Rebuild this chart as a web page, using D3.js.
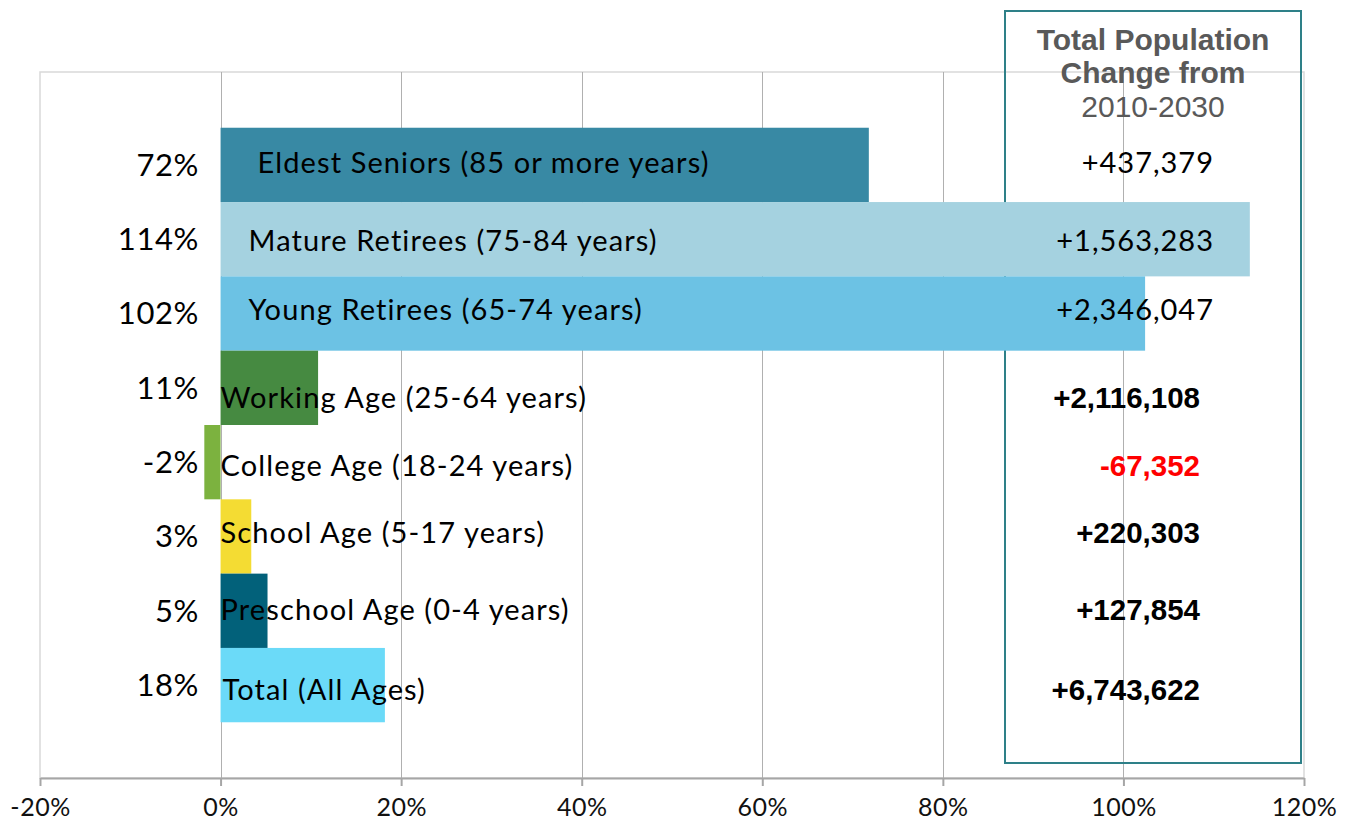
<!DOCTYPE html>
<html>
<head>
<meta charset="utf-8">
<script src="https://cdnjs.cloudflare.com/ajax/libs/d3/7.8.5/d3.min.js"></script>
<style>
  body { margin: 0; background: #fff; }
  svg { display: block; }
</style>
</head>
<body>
<div id="chart"></div>
<script>
// data
var categories = ["Eldest Seniors (85 or more years)", "Mature Retirees (75-84 years)", "Young Retirees (65-74 years)",
    "Working Age (25-64 years)", "College Age (18-24 years)", "School Age (5-17 years)",
    "Preschool Age (0-4 years)", "Total (All Ages)"];
var pctChange = [0.718, 1.14, 1.024, 0.108, -0.018, 0.034, 0.052, 0.182];
var popChange = [437379, 1563283, 2346047, 2116108, -67352, 220303, 127854, 6743622];
var xTicks = [-0.2, 0, 0.2, 0.4, 0.6, 0.8, 1.0, 1.2];
var boxTitle = ["Total Population", "Change from", "2010-2030"];

var barColors = ["#3889a4", "#a5d2e0", "#6cc2e4", "#468a41", "#7cb23f", "#f4dc33", "#02617a", "#6bdaf8"];

var canvas_width = 1355,
    canvas_height = 823;

// label nudges (layout only)
var labelDx = [37, 28, 28, 0, 0, 0, 0, 2];
var labelDy = [-2, 2, -4, 10, 4, -4, -1, 5];

var svg = d3.select("#chart")
    .append("svg")
    .attr("width", canvas_width)
    .attr("height", canvas_height);

var x = d3.scaleLinear()
    .domain([-0.2, 1.2])
    .range([40, 1304]);

var y = d3.scaleBand()
    .domain(categories)
    .range([72, 778])
    .paddingInner(0)
    .paddingOuter(0.75);

var pctFmt = function(v) { return Math.round(v * 100) + "%"; };
var numFmt = function(v) { return (v < 0 ? "-" : "+") + d3.format(",")(Math.abs(v)); };

// plot frame
svg.append("rect")
    .attr("x", 40)
    .attr("y", 72)
    .attr("width", 1264)
    .attr("height", 706)
    .attr("fill", "none")
    .attr("stroke", "#d9d9d9")
    .attr("stroke-width", 1.5);

// gridlines
svg.selectAll("line.grid")
    .data(xTicks.slice(1, -1))
    .enter()
        .append("line")
        .attr("class", "grid")
        .attr("x1", function(d) { return Math.round(x(d)) + 0.5; })
        .attr("x2", function(d) { return Math.round(x(d)) + 0.5; })
        .attr("y1", 72)
        .attr("y2", 778)
        .attr("stroke", "#b0b0b0")
        .attr("stroke-width", 1);

// box around the right column (sits behind the bars)
svg.append("rect")
    .attr("x", 1005)
    .attr("y", 11)
    .attr("width", 296)
    .attr("height", 752)
    .attr("fill", "none")
    .attr("stroke", "#2e8088")
    .attr("stroke-width", 2);

// bars
svg.selectAll("rect.bar")
    .data(categories)
    .enter()
        .append("rect")
        .attr("class", "bar")
        .attr("x", function(d, i) { return x(Math.min(0, pctChange[i])); })
        .attr("y", function(d) { return y(d); })
        .attr("width", function(d, i) { return Math.abs(x(pctChange[i]) - x(0)); })
        .attr("height", y.bandwidth())
        .attr("fill", function(d, i) { return barColors[i]; });

// x axis
var xAxis = d3.axisBottom(x)
    .tickValues(xTicks)
    .tickFormat(pctFmt)
    .tickSizeInner(8)
    .tickSizeOuter(0)
    .tickPadding(12);

var gx = svg.append("g")
    .attr("transform", "translate(0,778)")
    .call(xAxis);
gx.select(".domain").attr("stroke", "#a6a6a6").attr("stroke-width", 2);
gx.selectAll(".tick line").attr("stroke", "#a6a6a6").attr("stroke-width", 2);
gx.selectAll(".tick text")
    .attr("fill", "#111")
    .style("font-family", "Lato, 'Noto Sans', sans-serif")
    .style("font-size", "25px")
    .style("letter-spacing", "0.5px");

// percent labels left of zero
svg.selectAll("text.pct")
    .data(categories)
    .enter()
        .append("text")
        .attr("class", "pct")
        .attr("x", 199)
        .attr("y", function(d) { return y(d) + y.bandwidth() / 2; })
        .attr("dy", "0.35em")
        .attr("text-anchor", "end")
        .style("font-family", "Lato, 'Noto Sans', sans-serif")
        .style("font-size", "31px")
        .style("letter-spacing", "0.6px")
        .attr("fill", "#000")
        .text(function(d, i) { return pctFmt(pctChange[i]); });

// category names on the bars
svg.selectAll("text.cat")
    .data(categories)
    .enter()
        .append("text")
        .attr("class", "cat")
        .attr("x", function(d, i) { return x(0) + labelDx[i]; })
        .attr("y", function(d, i) { return y(d) + y.bandwidth() / 2 + labelDy[i]; })
        .attr("dy", "0.35em")
        .style("font-family", "Lato, 'Noto Sans', sans-serif")
        .style("font-size", "29px")
        .style("letter-spacing", "1.1px")
        .attr("fill", "#000")
        .text(function(d) { return d; });

// population change column
svg.selectAll("text.pop")
    .data(categories)
    .enter()
        .append("text")
        .attr("class", "pop")
        .attr("x", function(d, i) { return i < 3 ? 1214 : 1200; })
        .attr("y", function(d, i) { return y(d) + y.bandwidth() / 2 + labelDy[i]; })
        .attr("dy", "0.35em")
        .attr("text-anchor", "end")
        .style("font-family", function(d, i) {
            return i < 3 ? "Lato, 'Noto Sans', sans-serif" : "'Liberation Sans', Arial, sans-serif";
        })
        .style("font-weight", function(d, i) { return i < 3 ? "normal" : "bold"; })
        .style("font-size", function(d, i) { return i < 3 ? "29px" : "29.5px"; })
        .style("letter-spacing", function(d, i) { return i < 3 ? "1px" : "0px"; })
        .attr("fill", function(d, i) { return popChange[i] < 0 ? "#ff0000" : "#000"; })
        .text(function(d, i) { return numFmt(popChange[i]); });

// column title
svg.selectAll("text.title")
    .data(boxTitle)
    .enter()
        .append("text")
        .attr("class", "title")
        .attr("x", 1153)
        .attr("y", function(d, i) { return 39 + i * 33.5; })
        .attr("dy", "0.35em")
        .attr("text-anchor", "middle")
        .style("font-family", "'Liberation Sans', Arial, sans-serif")
        .style("font-weight", function(d, i) { return i < 2 ? "bold" : "normal"; })
        .style("font-size", "30px")
        .attr("fill", "#595959")
        .text(function(d) { return d; });
</script>
</body>
</html>
